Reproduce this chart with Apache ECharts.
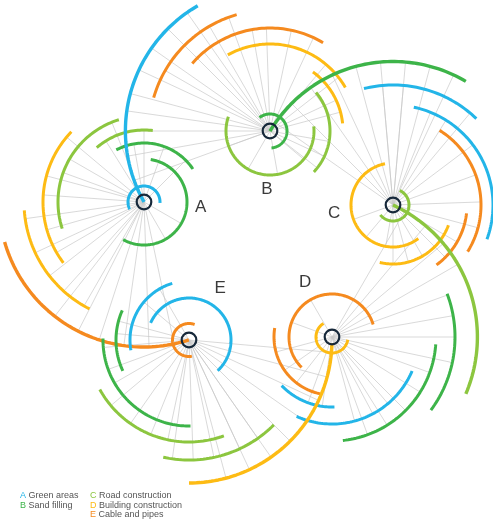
<!DOCTYPE html>
<html>
<head>
<meta charset="utf-8">
<script src="https://cdn.jsdelivr.net/npm/echarts@6/dist/echarts.min.js"></script>
<style>
html,body{margin:0;padding:0;background:#fff;}
#chart{width:493px;height:521px;}
</style>
</head>
<body>
<div id="chart"></div>
<script>
// ---- categories ----
const nodeNames = ['A', 'B', 'C', 'D', 'E'];
const categoryNames = ['Green areas', 'Sand filling', 'Road construction', 'Building construction', 'Cable and pipes'];
const categoryColors = ['#23b5e8', '#3db449', '#8cc63f', '#fdbb14', '#f58a1f'];

// ---- arcs around each node: [radius, startAngle, endAngle, categoryIndex] ----
const arcsA = [[16, 207, -3, 0], [43, 81, -119, 1], [59, 118, 34, 1], [72, 131, 83, 2], [86, 107, 198, 2], [101, 136, 217, 3], [120, 184, 243, 3], [145, 288, 196, 4]];
const arcsB = [[17, 128, -85, 1], [44, 161, 366, 2], [60, 40, -43, 2], [73, 54, 6, 3], [87, 119, 30, 3], [103, 139, 59, 4], [121, 164, 106, 4], [144.6, 209.4, 120, 0]];
const arcsC = [[16, 65, -142, 2], [42, 101, 307, 3], [59, -20, -103, 3], [74, -6.5, -54, 4], [88, 58, -32, 4], [100, 78, -20, 0], [120, 104, 46, 0], [143.5, 149, 59.5, 1]];
const arcsD = [[16, 122, 350, 3], [43, 17, 225, 4], [58, 171, 259, 4], [70, 224, 272, 0], [87, 246, 337, 0], [104, -4, -84, 1], [123, 20.6, -36.5, 1], [145.4, 65.2, -23, 2]];
const arcsE = [[16.5, 70, 280, 4], [42, 156, -47, 0], [59, 106.5, 190, 0], [73, 156, 205, 1], [86, 179, 271, 1], [102, 209, 290, 2], [120, 257.6, 315, 2], [143, -1.2, -90, 3]];

// ---- spokes from each node: [length, angle] ----
const spokesA = [[59, 45], [59, 70], [59, 100], [72, 90], [72, 122], [86, 112], [86, 150], [86, 160], [101, 140], [101, 165], [101, 176], [101, 196], [101, 210], [120, 188], [120, 205], [120, 218], [120, 228], [120, 240], [145, 232], [145, 243], [145, 252], [145, 262], [145, 272], [145, 282], [43, -30], [43, -60]];
const spokesB = [[144.6, 125], [144.6, 135], [144.6, 145], [144.6, 155], [144.6, 165], [144.6, 172], [144.6, 180], [144.6, 190], [144.6, 200], [121, 110], [121, 120], [121, 150], [103, 65], [103, 78], [103, 92], [103, 100], [103, 130], [87, 38], [87, 50], [73, 15], [73, 25], [60, -10], [60, -25], [60, -38], [44, 200], [44, 240], [44, 280], [44, 320]];
const spokesC = [[143.5, 65], [143.5, 75], [143.5, 85], [143.5, 95], [143.5, 105], [143.5, 115], [143.5, 125], [143.5, 135], [143.5, 145], [120, 85], [120, 95], [120, 50], [100, 37], [100, 58], [100, 68], [88, 20], [88, 2], [88, -15], [74, -30], [74, -45], [59, -60], [59, -75], [59, -90], [42, 200], [42, 230], [42, 260]];
const spokesD = [[145.4, 60], [145.4, 50], [145.4, 40], [145.4, 30], [123, 20], [123, 10], [123, 0], [123, -12], [104, -20], [104, -32], [104, -45], [104, -58], [104, -70], [87, 285], [87, 298], [87, 310], [70, 250], [70, 262], [58, 195], [58, 215], [58, 232], [43, 160], [43, 120]];
const spokesE = [[143, -5], [143, -15], [143, -25], [143, -35], [143, -45], [143, -55], [143, -65], [143, -75], [120, 262], [120, 272], [120, 282], [120, 295], [120, 305], [102, 220], [102, 235], [102, 248], [102, 258], [86, 185], [86, 200], [86, 210], [73, 165], [73, 175], [59, 120], [59, 140]];

const allArcs = [arcsA, arcsB, arcsC, arcsD, arcsE];
const allSpokes = [spokesA, spokesB, spokesC, spokesD, spokesE];

// ---- layout (not data) ----
const nodeCenters = [[144, 202], [270, 131], [393, 205], [332, 337], [189, 340]];
const labelPolar = [[57, -5], [58, 267], [59.5, 188], [61, 116], [60.5, 59]];

const polar = [], angleAxis = [], radiusAxis = [], series = [];
nodeNames.forEach((n, i) => {
  polar.push({ center: nodeCenters[i], radius: 150 });
  angleAxis.push({ polarIndex: i, type: 'value', min: 0, max: 360, startAngle: 0, clockwise: false,
    axisLine: { show: false }, axisTick: { show: false }, axisLabel: { show: false }, splitLine: { show: false } });
  radiusAxis.push({ polarIndex: i, type: 'value', min: 0, max: 150,
    axisLine: { show: false }, axisTick: { show: false }, axisLabel: { show: false }, splitLine: { show: false } });
});

// spokes first (bottom layer)
nodeNames.forEach((n, i) => {
  series.push({
    type: 'custom', coordinateSystem: 'polar', polarIndex: i, silent: true, z: 1,
    data: allSpokes[i],
    renderItem: (params, api) => {
      const p0 = api.coord([0, api.value(1)]);
      const p1 = api.coord([api.value(0), api.value(1)]);
      return { type: 'line', shape: { x1: p0[0], y1: p0[1], x2: p1[0], y2: p1[1] },
        style: { stroke: '#c9c9c9', lineWidth: 0.7 } };
    }
  });
});
// arcs
nodeNames.forEach((n, i) => {
  series.push({
    type: 'custom', coordinateSystem: 'polar', polarIndex: i, silent: true, z: 2,
    data: allArcs[i],
    renderItem: (params, api) => {
      const r = api.value(0), a1 = api.value(1), a2 = api.value(2), ci = api.value(3);
      const steps = Math.max(2, Math.ceil(Math.abs(a2 - a1) / 1.5));
      const pts = [];
      for (let k = 0; k <= steps; k++) pts.push(api.coord([r, a1 + (a2 - a1) * k / steps]));
      return { type: 'polyline', shape: { points: pts },
        style: { stroke: categoryColors[ci], lineWidth: r > 140 ? 3.4 : 3, fill: 'none', lineCap: 'butt', lineJoin: 'round' } };
    }
  });
});
// node rings and letters
nodeNames.forEach((n, i) => {
  series.push({
    type: 'custom', coordinateSystem: 'polar', polarIndex: i, silent: true, z: 3,
    data: [[0, 0]],
    renderItem: (params, api) => {
      const c = api.coord([0, 0]);
      const lp = api.coord(labelPolar[i]);
      return { type: 'group', children: [
        { type: 'circle', shape: { cx: c[0], cy: c[1], r: 7.3 }, style: { stroke: '#16283a', lineWidth: 2.2, fill: 'none' } },
        { type: 'text', x: lp[0], y: lp[1], style: { text: n, fill: '#3a3a3a', font: '17px "Liberation Sans", Arial, sans-serif', align: 'center', verticalAlign: 'middle' } }
      ] };
    }
  });
});

// legend (text)
const legendLayout = [[20, 496], [20, 505.5], [90, 496], [90, 505.5], [90, 515]];
const graphic = nodeNames.map((n, i) => ({
  type: 'text', x: legendLayout[i][0], y: legendLayout[i][1],
  style: {
    text: '{k|' + n + '} {t|' + categoryNames[i] + '}',
    verticalAlign: 'middle',
    font: '9px "Liberation Sans", Arial, sans-serif',
    rich: {
      k: { fill: categoryColors[i], font: '9px "Liberation Sans", Arial, sans-serif' },
      t: { fill: '#555555', font: '9px "Liberation Sans", Arial, sans-serif' }
    }
  }
}));

const chart = echarts.init(document.getElementById('chart'), null, { renderer: 'canvas' });
chart.setOption({
  backgroundColor: '#ffffff',
  animation: false,
  polar, angleAxis, radiusAxis, series, graphic
});
</script>
</body>
</html>
